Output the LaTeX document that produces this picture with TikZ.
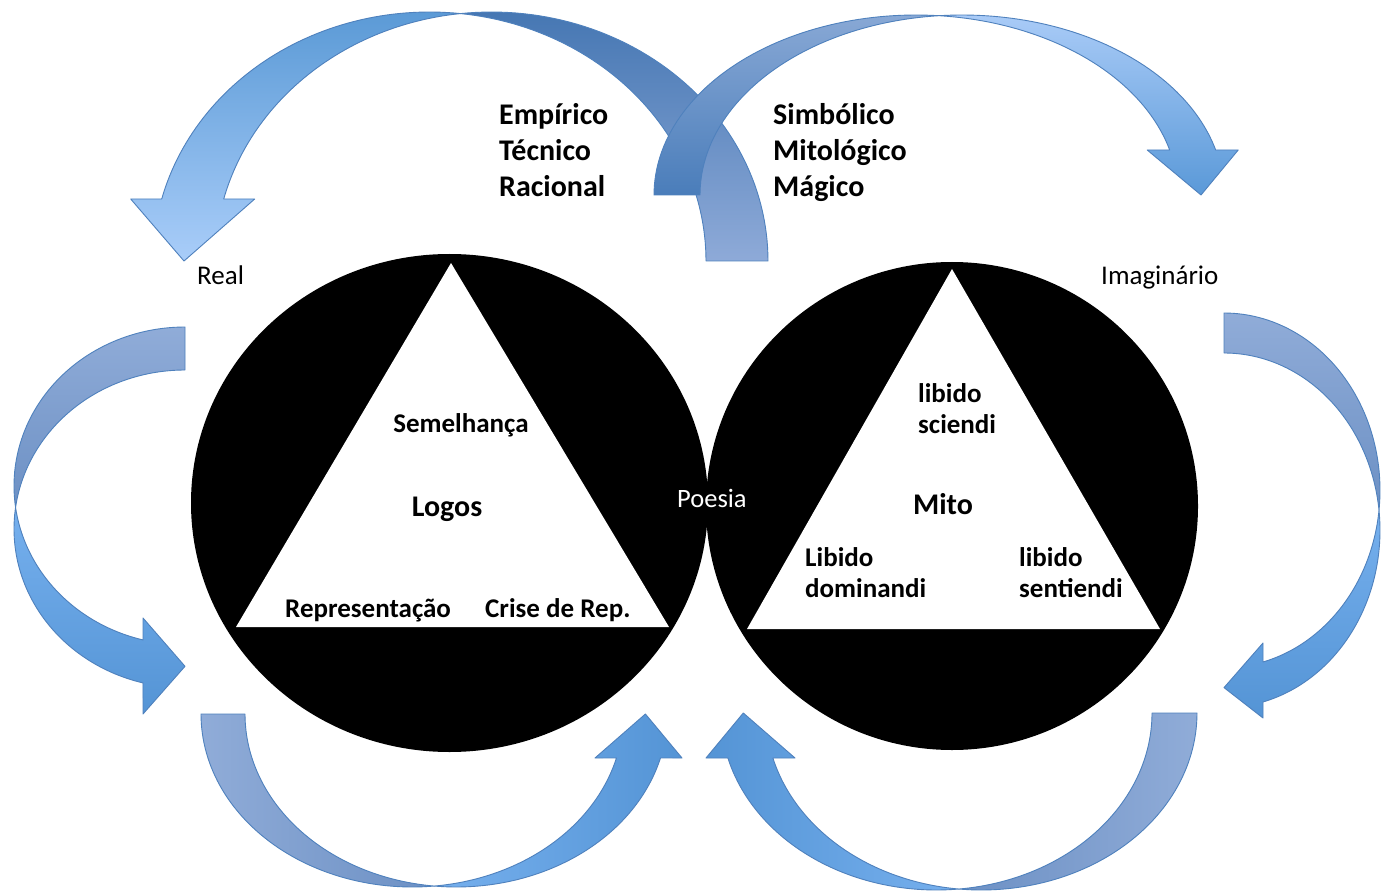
\documentclass[tikz,border=0pt]{standalone}
\usepackage{fontspec}
\setmainfont{Carlito}
\definecolor{arrowedge}{HTML}{4F81BD}
\definecolor{tlbt}{HTML}{4677B3}
\definecolor{tlbb}{HTML}{8EAAD8}
\definecolor{tlft}{HTML}{5B9AD6}
\definecolor{tlfb}{HTML}{A9CDF9}
\definecolor{trbt}{HTML}{88A8D5}
\definecolor{trbb}{HTML}{4A7DBA}
\definecolor{trft}{HTML}{A9CBF7}
\definecolor{trfb}{HTML}{5A99D8}
\definecolor{backlight}{HTML}{90ACD8}
\definecolor{backdark}{HTML}{6C90C4}
\definecolor{frontlight}{HTML}{76B0EE}
\definecolor{frontdark}{HTML}{5494D5}
\begin{document}
\begin{tikzpicture}[x=1pt,y=-1pt,
  arr/.style={draw=arrowedge, line width=0.9pt, line join=round},
  big/.style={font=\fontsize{30}{36}\selectfont\bfseries, inner sep=0pt, anchor=base west},
  mid/.style={font=\fontsize{27}{31}\selectfont\bfseries, inner sep=0pt, anchor=base west},
  reg/.style={font=\fontsize{27}{31}\selectfont, inner sep=0pt, anchor=base west}]
\useasboundingbox (0,0) rectangle (1381,893);
\fill[white] (0,0) rectangle (1381,893);

% ---------- top-left arrow ----------
\path[arr, top color=tlbt, bottom color=tlbb]
  plot[domain=360:263.56, samples=60, variable=\t] ({491.5+276.5*cos(\t)},{261+249*sin(\t)})
  -- plot[domain=276.44:360, samples=60, variable=\t] ({429.5+276.5*cos(\t)},{261+249*sin(\t)}) -- cycle;
\path[arr, top color=tlft, bottom color=tlfb]
  plot[domain=276.44:194.42, samples=60, variable=\t] ({429.5+276.5*cos(\t)},{261+249*sin(\t)})
  -- (130.7,199) -- (184,261) -- (254.7,199)
  -- plot[domain=194.42:263.56, samples=60, variable=\t] ({491.5+276.5*cos(\t)},{261+249*sin(\t)}) -- cycle;

% ---------- top-right arrow ----------
\path[arr, top color=trbt, bottom color=trbb]
  plot[domain=180:275.04, samples=60, variable=\t] ({916+262*cos(\t)},{195+180*sin(\t)})
  -- plot[domain=264.96:180, samples=60, variable=\t] ({962+262*cos(\t)},{195+180*sin(\t)}) -- cycle;
\path[arr, top color=trft, bottom color=trfb]
  plot[domain=264.96:345.52, samples=60, variable=\t] ({962+262*cos(\t)},{195+180*sin(\t)})
  -- (1238.2,150) -- (1201,195) -- (1147.2,150)
  -- plot[domain=345.52:275.04, samples=60, variable=\t] ({916+262*cos(\t)},{195+180*sin(\t)}) -- cycle;

% ---------- left arrow ----------
\path[arr, top color=backlight, bottom color=backdark]
  plot[domain=270:172.22, samples=60, variable=\t] ({185+171*cos(\t)},{485.9+158.9*sin(\t)})
  -- plot[domain=187.78:270, samples=60, variable=\t] ({185+171*cos(\t)},{528.9+158.9*sin(\t)}) -- cycle;
\path[arr, top color=frontlight, bottom color=frontdark]
  plot[domain=187.78:104.22, samples=60, variable=\t] ({185+171*cos(\t)},{528.9+158.9*sin(\t)})
  -- (143,714) -- (185,666.3) -- (143,618)
  -- plot[domain=104.22:172.22, samples=60, variable=\t] ({185+171*cos(\t)},{485.9+158.9*sin(\t)}) -- cycle;

% ---------- right arrow ----------
\path[arr, top color=backlight, bottom color=backdark]
  plot[domain=-90:6.477, samples=60, variable=\t] ({1224+156*cos(\t)},{490.3+177.3*sin(\t)})
  -- plot[domain=-6.477:-90, samples=60, variable=\t] ({1224+156*cos(\t)},{530.3+177.3*sin(\t)}) -- cycle;
\path[arr, top color=frontlight, bottom color=frontdark]
  plot[domain=-6.477:75.52, samples=60, variable=\t] ({1224+156*cos(\t)},{530.3+177.3*sin(\t)})
  -- (1263,718) -- (1224,687.6) -- (1263,643)
  -- plot[domain=75.52:6.477, samples=60, variable=\t] ({1224+156*cos(\t)},{490.3+177.3*sin(\t)}) -- cycle;

% ---------- bottom-left arrow ----------
\path[arr, left color=backlight, right color=backdark]
  plot[domain=180:84.02, samples=60, variable=\t] ({412.2+211.2*cos(\t)},{714+173*sin(\t)})
  -- plot[domain=95.98:180, samples=60, variable=\t] ({456.2+211.2*cos(\t)},{714+173*sin(\t)}) -- cycle;
\path[arr, left color=frontlight, right color=frontdark]
  plot[domain=95.98:14.73, samples=60, variable=\t] ({456.2+211.2*cos(\t)},{714+173*sin(\t)})
  -- (682,758) -- (645.4,714) -- (595,758)
  -- plot[domain=14.73:84.02, samples=60, variable=\t] ({412.2+211.2*cos(\t)},{714+173*sin(\t)}) -- cycle;

% ---------- bottom-right arrow ----------
\path[arr, right color=backlight, left color=backdark]
  plot[domain=0:95.99, samples=60, variable=\t] ({981.4+215.6*cos(\t)},{713+177*sin(\t)})
  -- plot[domain=84.01:0, samples=60, variable=\t] ({936.4+215.6*cos(\t)},{713+177*sin(\t)}) -- cycle;
\path[arr, right color=frontlight, left color=frontdark]
  plot[domain=84.01:165.27, samples=60, variable=\t] ({936.4+215.6*cos(\t)},{713+177*sin(\t)})
  -- (706,758) -- (743.3,713) -- (795,758)
  -- plot[domain=165.27:95.99, samples=60, variable=\t] ({981.4+215.6*cos(\t)},{713+177*sin(\t)}) -- cycle;

% ---------- circles and triangles ----------
\fill[black] (449.5,503) ellipse [x radius=258.5pt, y radius=249pt];
\fill[black] (952,506) ellipse [x radius=246pt, y radius=244pt];
\fill[white] (451,263) -- (669,627) -- (236,627) -- cycle;
\fill[white] (952,269) -- (1160,629) -- (747,629) -- cycle;

% ---------- texts ----------
\node[big] (emp) at (499,125) {Empírico};
\node[big] (tec) at (499,161) {Técnico};
\node[big] (rac) at (499,197) {Racional};
\node[big] (sim) at (773,125) {Simbólico};
\node[big] (mitol) at (773,161) {Mitológico};
\node[big] (mag) at (773,197) {Mágico};
\node[reg] (real) at (197,285) {Real};
\node[reg] (imag) at (1101,285) {Imaginário};
\node[mid, anchor=base] (sem) at (461,432) {Semelhança};
\node[big, anchor=base] (logos) at (447,516) {Logos};
\node[mid] (rep) at (285,617) {Representação};
\node[mid] (crise) at (485,617) {Crise de Rep.};
\node[reg, text=white, font=\fontsize{26.5}{31}\selectfont] (poesia) at (677,507) {Poesia};
\node[mid] (ls1) at (918,402) {libido};
\node[mid] (ls2) at (918,433) {sciendi};
\node[big, anchor=base] (mito) at (943,514) {Mito};
\node[mid] (ld1) at (805,566) {Libido};
\node[mid] (ld2) at (805,597) {dominandi};
\node[mid] (lse1) at (1019,566) {libido};
\node[mid] (lse2) at (1019,597) {sentiendi};
\end{tikzpicture}
\end{document}
